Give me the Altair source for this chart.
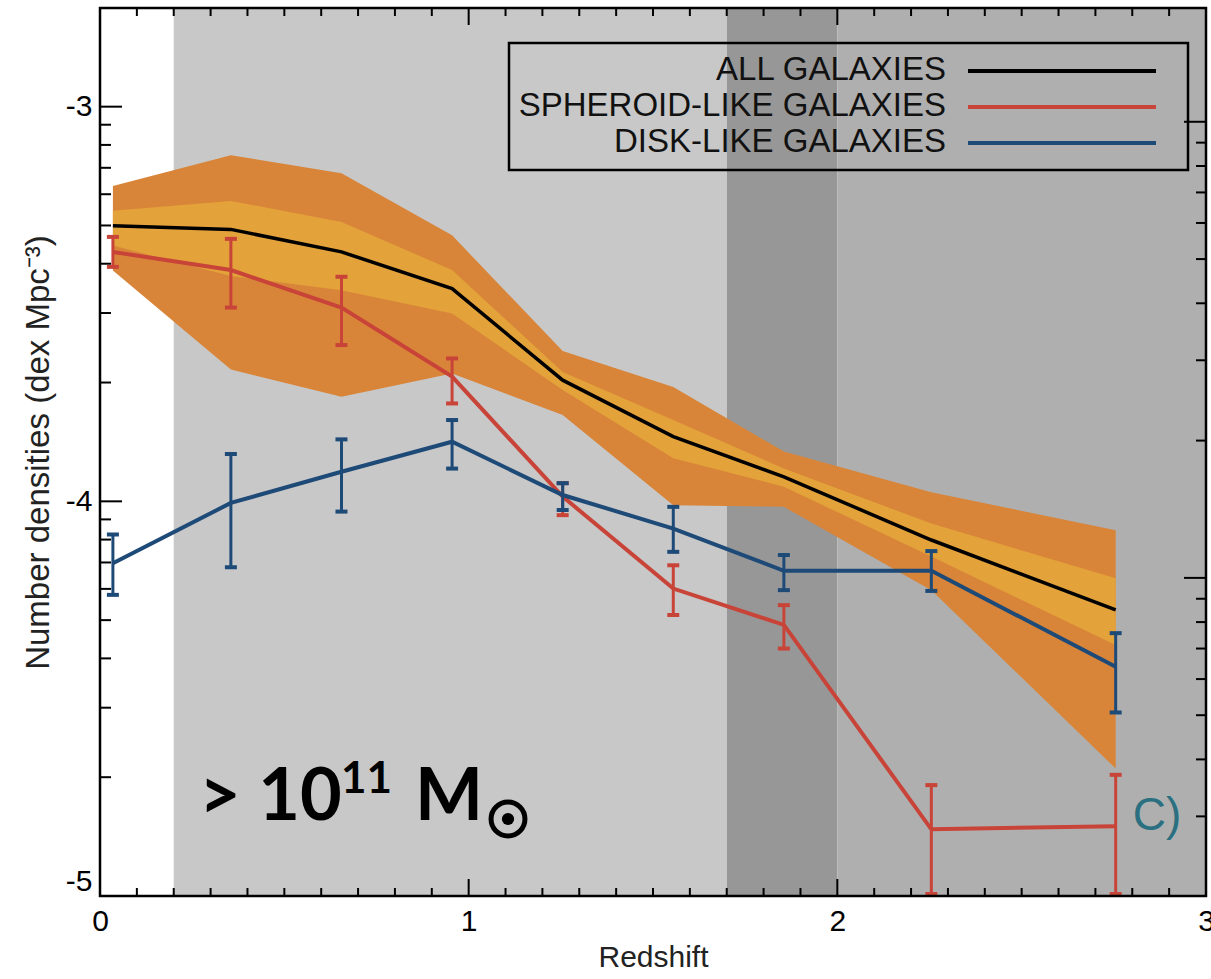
import altair as alt
import pandas as pd
import math

# ---------------- data ----------------
redshift = [0.035, 0.355, 0.655, 0.955, 1.255, 1.555, 1.855, 2.255, 2.755]

all_gal = [-3.302, -3.311, -3.368, -3.461, -3.693, -3.836, -3.938, -4.098, -4.275]
outer_hi = [-3.201, -3.123, -3.169, -3.326, -3.619, -3.710, -3.874, -3.977, -4.073]
outer_lo = [-3.415, -3.666, -3.735, -3.676, -3.781, -4.010, -4.014, -4.225, -4.677]
inner_hi = [-3.264, -3.239, -3.292, -3.414, -3.672, -3.794, -3.917, -4.056, -4.195]
inner_lo = [-3.352, -3.429, -3.465, -3.524, -3.718, -3.891, -3.963, -4.140, -4.364]

sph = [-3.368, -3.414, -3.509, -3.684, -3.988, -4.221, -4.313, -4.831, -4.823]
sph_hi = [-3.330, -3.335, -3.431, -3.638, -3.954, -4.162, -4.263, -4.719, -4.693]
sph_lo = [-3.406, -3.509, -3.604, -3.752, -4.035, -4.288, -4.373, -4.995, -4.995]

disk = [-4.157, -4.004, -3.925, -3.849, -3.984, -4.069, -4.176, -4.176, -4.419]
disk_hi = [-4.084, -3.880, -3.843, -3.794, -3.954, -4.014, -4.136, -4.126, -4.334]
disk_lo = [-4.237, -4.167, -4.026, -3.917, -4.022, -4.128, -4.225, -4.227, -4.535]

# shaded redshift regions
region_start = [0.0, 0.2, 1.7, 2.0]
region_end = [0.2, 1.7, 2.0, 3.0]
region_color = ["#ffffff", "#c8c8c8", "#979797", "#afafaf"]

legend_labels = ["ALL GALAXIES", "SPHEROID-LIKE GALAXIES", "DISK-LIKE GALAXIES"]
legend_colors = ["#000000", "#c94438", "#1e4a78"]

x_major = [0, 1, 2, 3]
x_minor = [round(i / 10, 1) for i in range(31) if i % 10 != 0]
y_major = [-5, -4, -3]
y_minor = [d + math.log10(k) for d in (-5, -4, -3) for k in range(2, 10)
           if d + math.log10(k) < -2.75]
r_major = [1, 10]
r_minor = [k / 10 for k in range(3, 10)] + [float(k) for k in range(2, 10)]

# ---------------- layout ----------------
W, H = 1106, 888
FONT = "Liberation Sans"
ORANGE_OUT = "#d98539"
ORANGE_IN = "#e3a23a"
RED = legend_colors[1]
BLUE = legend_colors[2]

xs = alt.Scale(domain=[0, 3], nice=False, zero=False)
ys = alt.Scale(domain=[-5, -2.75], nice=False, zero=False)

xaxis = alt.Axis(values=x_major, format="d", labelFont=FONT, labelFontSize=30,
                 labelColor="black", labelPadding=10, labelFlush=False,
                 ticks=False, domain=False, grid=False, title="Redshift",
                 titleFont=FONT, titleFontSize=30, titleFontWeight="normal",
                 titleColor="#222222", titlePadding=6)
yaxis = alt.Axis(values=y_major, labelExpr="'-' + abs(datum.value)", labelFont=FONT,
                 labelFontSize=30, labelColor="black", labelPadding=8,
                 labelFlush=True, ticks=False, domain=False, grid=False,
                 title="Number densities (dex Mpc⁻³)", titleFont=FONT,
                 titleFontSize=33, titleFontWeight="normal", titleColor="#222222",
                 titlePadding=10)

df = pd.DataFrame(dict(z=redshift, all=all_gal, ohi=outer_hi, olo=outer_lo,
                       ihi=inner_hi, ilo=inner_lo, sph=sph, sph_hi=sph_hi,
                       sph_lo=sph_lo, disk=disk, disk_hi=disk_hi, disk_lo=disk_lo))

X = alt.X("z:Q", scale=xs, axis=xaxis)

bg = alt.Chart(pd.DataFrame(dict(a=region_start, b=region_end, c=region_color))).mark_rect().encode(
    x=alt.X("a:Q", scale=xs, axis=xaxis), x2="b:Q",
    y=alt.value(0), y2=alt.value(H),
    color=alt.Color("c:N", scale=None))

band_out = alt.Chart(df).mark_area(color=ORANGE_OUT, opacity=1).encode(
    x=X, y=alt.Y("ohi:Q", scale=ys, axis=yaxis), y2="olo:Q")
band_in = alt.Chart(df).mark_area(color=ORANGE_IN, opacity=1).encode(
    x=X, y=alt.Y("ihi:Q", scale=ys, axis=yaxis), y2="ilo:Q")
line_all = alt.Chart(df).mark_line(color="black", strokeWidth=3.5).encode(
    x=X, y=alt.Y("all:Q", scale=ys, axis=yaxis))


def series(col, color):
    base = alt.Chart(df)
    bars = base.mark_rule(color=color, strokeWidth=3, clip=True).encode(
        x=X, y=alt.Y(f"{col}_hi:Q", scale=ys, axis=yaxis), y2=f"{col}_lo:Q")
    cap_hi = base.mark_tick(color=color, orient="horizontal", size=12, thickness=4,
                            opacity=1, clip=True).encode(
        x=X, y=alt.Y(f"{col}_hi:Q", scale=ys, axis=yaxis))
    cap_lo = base.mark_tick(color=color, orient="horizontal", size=12, thickness=4,
                            opacity=1, clip=True).encode(
        x=X, y=alt.Y(f"{col}_lo:Q", scale=ys, axis=yaxis))
    line = base.mark_line(color=color, strokeWidth=4, clip=True).encode(
        x=X, y=alt.Y(f"{col}:Q", scale=ys, axis=yaxis))
    return [line, bars, cap_hi, cap_lo]


def vticks(vals, length, top):
    c = alt.Chart(pd.DataFrame(dict(v=vals))).mark_rule(color="black", strokeWidth=2)
    if top:
        return c.encode(x=alt.X("v:Q", scale=xs, axis=xaxis), y=alt.value(0), y2=alt.value(length))
    return c.encode(x=alt.X("v:Q", scale=xs, axis=xaxis), y=alt.value(H), y2=alt.value(H - length))


def lticks(vals, length):
    return alt.Chart(pd.DataFrame(dict(v=vals))).mark_rule(color="black", strokeWidth=2).encode(
        y=alt.Y("v:Q", scale=ys, axis=yaxis), x=alt.value(0), x2=alt.value(length))


rs = alt.Scale(type="log", domain=[0.2007, 17.76], nice=False)


def rticks(vals, length):
    return alt.Chart(pd.DataFrame(dict(v=vals))).mark_rule(color="black", strokeWidth=2).encode(
        y=alt.Y("v:Q", scale=rs, axis=None), x=alt.value(W), x2=alt.value(W - length))


one = pd.DataFrame(dict(k=[0]))

frame = alt.Chart(one).mark_rect(fillOpacity=0, stroke="black", strokeWidth=2.5).encode(
    x=alt.value(0), x2=alt.value(W), y=alt.value(0), y2=alt.value(H))

legend_layers = [
    alt.Chart(one).mark_rect(fillOpacity=0, stroke="black", strokeWidth=2.5).encode(
        x=alt.value(409), x2=alt.value(1088), y=alt.value(35), y2=alt.value(162))
]
for i, (lab, col) in enumerate(zip(legend_labels, legend_colors)):
    legend_layers.append(
        alt.Chart(pd.DataFrame(dict(t=[lab]))).mark_text(
            font=FONT, fontSize=33, align="right", baseline="alphabetic", color="#111111").encode(
            text="t:N", x=alt.value(846), y=alt.value(72 + 36 * i)))
    legend_layers.append(
        alt.Chart(one).mark_rule(color=col, strokeWidth=4).encode(
            x=alt.value(868), x2=alt.value(1056), y=alt.value(63 + 36 * i)))

ANN = "Lato"
annot = [
    alt.Chart(pd.DataFrame(dict(t=["> 10"]))).mark_text(
        font=ANN, fontWeight="bold", fontSize=72, align="left", baseline="alphabetic", color="black").encode(
        text="t:N", x=alt.value(99), y=alt.value(812)),
    alt.Chart(pd.DataFrame(dict(t=["11"]))).mark_text(
        font=ANN, fontWeight="bold", fontSize=44, align="left", baseline="alphabetic", color="black").encode(
        text="t:N", x=alt.value(241), y=alt.value(785)),
    alt.Chart(pd.DataFrame(dict(t=["M"]))).mark_text(
        font=ANN, fontWeight="bold", fontSize=72, align="left", baseline="alphabetic", color="black").encode(
        text="t:N", x=alt.value(315), y=alt.value(812)),
    alt.Chart(one).mark_point(shape="circle", filled=False, size=1150, strokeWidth=5,
                              color="black", opacity=1).encode(
        x=alt.value(408), y=alt.value(811)),
    alt.Chart(one).mark_point(shape="circle", filled=True, size=150, color="black", opacity=1).encode(
        x=alt.value(408), y=alt.value(811)),
    alt.Chart(pd.DataFrame(dict(t=["C)"]))).mark_text(
        font=FONT, fontSize=46, align="center", baseline="middle", color="#2a7080").encode(
        text="t:N", x=alt.value(1057), y=alt.value(808)),
]

inner = alt.layer(
    bg, band_out, band_in, line_all,
    *series("sph", RED), *series("disk", BLUE),
    lticks(y_major, 22), lticks(y_minor, 11),
    vticks(x_major, 17, True), vticks(x_minor, 8, True),
    vticks(x_major, 17, False), vticks(x_minor, 8, False),
    *legend_layers, *annot, frame,
)

chart = alt.layer(inner, rticks(r_major, 22), rticks(r_minor, 10)).resolve_scale(
    y="independent"
).properties(
    width=W, height=H,
    padding={"left": 100, "top": 8, "right": 5, "bottom": 83},
    autosize=alt.AutoSizeParams(type="none"),
).configure_view(
    stroke=None
).configure(background="white")

chart.save("out.html", embed_options={"renderer": "svg", "actions": False})
